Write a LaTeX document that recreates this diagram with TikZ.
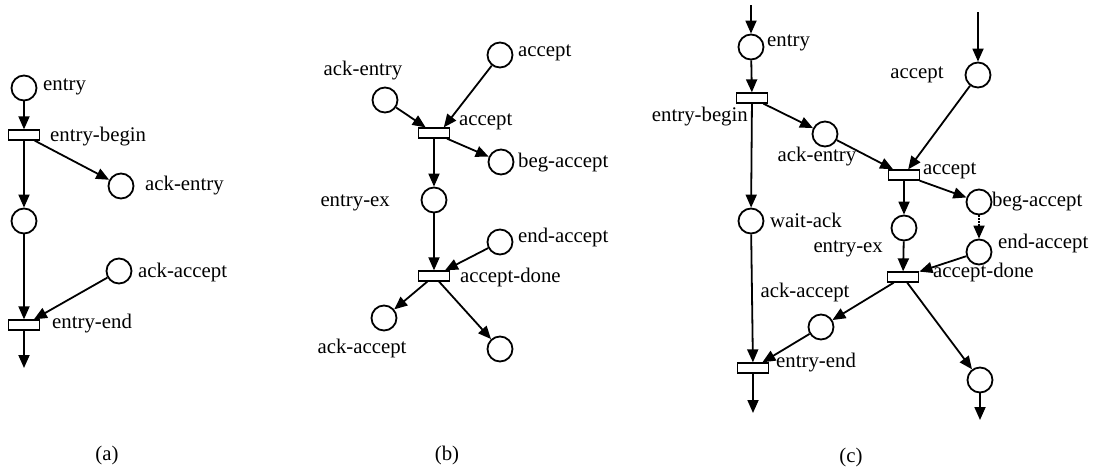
\documentclass[tikz,border=0pt]{standalone}
\usepackage{fontspec}
\setmainfont{Liberation Serif}
\usetikzlibrary{arrows.meta}

\tikzset{
	place/.style={
		circle,
		draw=black, line width=1.8pt,
		minimum size=25pt,
		inner sep=0pt,
	},
	trans/.style={
		rectangle,
		draw=black, line width=1.8pt,
		minimum width=31pt,
		minimum height=9.5pt,
		inner sep=0pt,
	},
	lbl/.style={inner sep=2pt, font=\fontsize{20.8}{24}\selectfont},
	arc/.style={line width=1.8pt, -{Triangle[length=13pt,width=11pt]}}
}

\begin{document}
\begin{tikzpicture}[x=1pt, y=-1pt]
	\useasboundingbox (0,0) rectangle (1096,467);

	% (a)
	\node[place](PA1) at (24,88){};
	\node[trans, below of=PA1, node distance=47pt](TA1){};
	\node[place, below of=TA1, node distance=86pt](PA2){};
	\node[trans, below of=PA2, node distance=104pt](TA2){};
	\node[place](PA3) at (121,186){};
	\node[place](PA4) at (119,271){};
	\coordinate(OA) at (24,368);

	\draw[arc] (PA1) -- (TA1);
	\draw[arc] (TA1) -- (PA3);
	\draw[arc] (TA1) -- (PA2);
	\draw[arc] (PA2) -- (TA2);
	\draw[arc] (PA4) -- (TA2);
	\draw[arc] (TA2) -- (OA);

	\node[lbl, anchor=west] at (41,87){entry};
	\node[lbl, anchor=west] at (48,137){entry-begin};
	\node[lbl, anchor=west] at (143,186){ack-entry};
	\node[lbl, anchor=west] at (136,272){ack-accept};
	\node[lbl, anchor=west] at (50,324){entry-end};
	\node[lbl](CA) at (107,455){(a)};

	% (b)
	\node[place](PB1) at (500,55){};
	\node[place](PB2) at (385,100){};
	\node[trans](TB1) at (434,133){};
	\node[place](PB3) at (501,162){};
	\node[place, below of=TB1, node distance=67pt](PB4){};
	\node[trans, below of=PB4, node distance=76pt](TB2){};
	\node[place](PB5) at (500,242){};
	\node[place](PB6) at (384,318){};
	\node[place](PB7) at (500,349){};

	\draw[arc] (PB1) -- (TB1.30);
	\draw[arc] (PB2) -- (TB1);
	\draw[arc] (TB1) -- (PB3);
	\draw[arc] (TB1) -- (PB4);
	\draw[arc] (PB4) -- (TB2);
	\draw[arc] (PB5) -- (TB2);
	\draw[arc] (TB2) -- (PB6);
	\draw[arc] (TB2) -- (PB7);

	\node[lbl, anchor=west] at (516,53){accept};
	\node[lbl] at (363,71){ack-entry};
	\node[lbl, anchor=west] at (457,122){accept};
	\node[lbl, anchor=west] at (516,163){beg-accept};
	\node[lbl, anchor=east] at (392,203){entry-ex};
	\node[lbl, anchor=west] at (516,237){end-accept};
	\node[lbl, anchor=west] at (458,277){accept-done};
	\node[lbl] at (362,348){ack-accept};
	\node[lbl](CB) at (447,455){(b)};

	% (c)
	\coordinate(IC1) at (751,5);
	\node[place](PC1) at (751,47){};
	\node[trans](TC1) at (752,98){};
	\node[place](PC2) at (825,134){};
	\node[place](PC3) at (751,221){};
	\coordinate(IC2) at (978,12);
	\node[place](PC4) at (978,75){};
	\node[trans](TC2) at (904,175){};
	\node[place](PC5) at (979,202){};
	\node[place, below of=TC2, node distance=53pt](PC6){};
	\node[place](PC7) at (979,252){};
	\node[trans](TC3) at (903,277){};
	\node[place](PC8) at (821,327){};
	\node[trans](TC4) at (753,368){};
	\node[place](PC9) at (980,380){};
	\coordinate(OC1) at (753,413);
	\coordinate(OC2) at (980,420);

	\draw[arc] (IC1) -- (PC1);
	\draw[arc] (PC1) -- (TC1);
	\draw[arc] (TC1) -- (PC2);
	\draw[arc] (TC1) -- (PC3);
	\draw[arc] (PC2) -- (TC2);
	\draw[arc] (IC2) -- (PC4);
	\draw[arc] (PC4) -- (TC2);
	\draw[arc] (TC2) -- (PC5);
	\draw[arc] (TC2) -- (PC6);
	\draw[arc, densely dotted] (PC5) -- (PC7);
	\draw[arc] (PC6) -- (TC3);
	\draw[arc] (PC7) -- (TC3);
	\draw[arc] (TC3) -- (PC8);
	\draw[arc] (TC3) -- (PC9);
	\draw[arc] (PC3) -- (TC4);
	\draw[arc] (PC8) -- (TC4);
	\draw[arc] (TC4) -- (OC1);
	\draw[arc] (PC9) -- (OC2);

	\node[lbl, anchor=west] at (765,43){entry};
	\node[lbl, anchor=east] at (750,117){entry-begin};
	\node[lbl] at (817,157){ack-entry};
	\node[lbl, anchor=west] at (768,220){wait-ack};
	\node[lbl] at (917,75){accept};
	\node[lbl, anchor=west] at (921,171){accept};
	\node[lbl, anchor=west] at (990,202){beg-accept};
	\node[lbl, anchor=east] at (885,249){entry-ex};
	\node[lbl, anchor=west] at (996,243){end-accept};
	\node[lbl, anchor=west] at (931,272){accept-done};
	\node[lbl] at (805,292){ack-accept};
	\node[lbl, anchor=west] at (774,363){entry-end};
	\node[lbl](CC) at (851,457){(c)};
\end{tikzpicture}
\end{document}
